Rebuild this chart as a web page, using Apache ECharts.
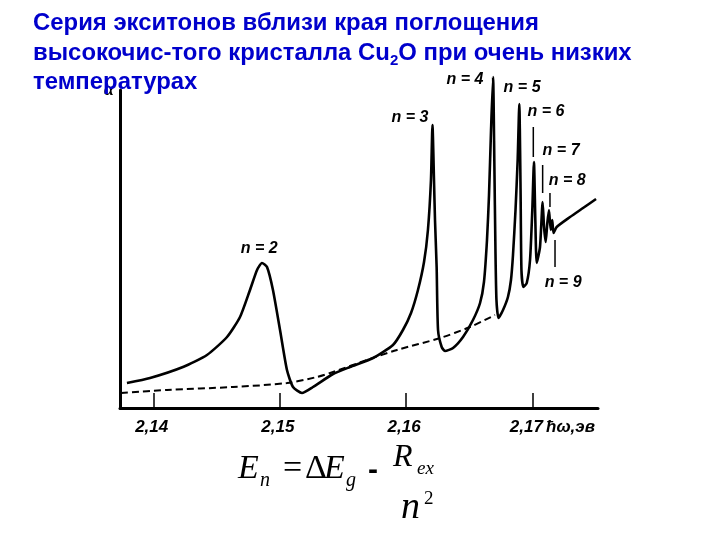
<!DOCTYPE html>
<html>
<head>
<meta charset="utf-8">
<script src="https://cdn.jsdelivr.net/npm/echarts@6/dist/echarts.min.js"></script>
<style>html,body{margin:0;padding:0;background:#fff}#c{width:720px;height:540px}</style>
</head>
<body>
<div id="c"></div>
<script>
// Energy axis ticks (eV)
const tickValues = [2.14, 2.15, 2.16, 2.17];
// Absorption curve (x: photon energy, y: absorption, arbitrary units)
const absX = [2.13788,2.13971,2.14232,2.14422,2.14581,2.14684,2.14763,2.14819,2.14858,2.14898,2.14945,2.15001,2.15056,2.15104,2.15175,2.15262,2.15421,2.15555,2.15738,2.15896,2.15975,2.16039,2.16094,2.16142,2.16173,2.16197,2.16209,2.16221,2.16229,2.16242,2.16253,2.16282,2.16308,2.16372,2.16451,2.16530,2.16586,2.16617,2.16641,2.16657,2.16673,2.16689,2.16699,2.16708,2.16716,2.16732,2.16768,2.16807,2.16831,2.16847,2.16867,2.16884,2.16897,2.16907,2.16914,2.16929,2.16956,2.16982,2.17000,2.17013,2.17024,2.17035,2.17061,2.17082,2.17093,2.17106,2.17119,2.17132,2.17146,2.17158,2.17168,2.17193,2.17299,2.17402,2.17505];
const absY = [25,30,41,53,71,91,118,138,145,141,118,78,38,21,15,21,34,41,50,63,78,95,118,146,178,228,283,228,188,141,78,61,57,60,71,88,105,126,168,213,278,331,248,158,108,90,98,111,128,153,198,248,304,218,138,121,125,148,198,246,188,145,161,206,181,166,185,198,178,188,175,181,191,200,209];
// Background (dashed) curve
const bgX = [2.13741,2.14105,2.14628,2.15056,2.15294,2.15421,2.15690,2.15928,2.16269,2.16506,2.16704];
const bgY = [15,18,21,25,31,36,48,58,70,81,93];
// Exciton line labels
const peakNames = ['n = 2','n = 3','n = 4','n = 5','n = 6','n = 7','n = 8','n = 9'];
const peakLabelX = [2.14836,2.16031,2.16467,2.16919,2.17109,2.17228,2.17276,2.17244];
const peakLabelY = [159,290,328,320,296,257,227,125];
// Pointer marks under some labels
const pointerX = [2.17008,2.17082,2.17140,2.17180];
const pointerY1 = [281,243,215,168];
const pointerY2 = [251,215,201,141];

const chart = echarts.init(document.getElementById('c'), null, {renderer:'canvas'});
const blue = '#0000cc';
const hf = 'Liberation Sans';
const series = [
  {type:'line', data: absX.map((x,i)=>[x,absY[i]]), showSymbol:false, symbol:'none', clip:false,
   smooth:0.2, lineStyle:{color:'#000', width:2.6}, z:3},
  {type:'line', data: bgX.map((x,i)=>[x,bgY[i]]), showSymbol:false, symbol:'none',
   smooth:0.3, lineStyle:{color:'#000', width:2, type:[7,4]}, z:2},
  {type:'scatter', clip:false, data: peakNames.map((n,i)=>({name:n, value:[peakLabelX[i], peakLabelY[i]]})),
   symbolSize:1, itemStyle:{opacity:0},
   label:{show:true, position:'inside', formatter:p=>p.name, fontSize:16, fontFamily:hf,
     fontStyle:'italic', fontWeight:'bold', color:'#000', opacity:1}, z:4}
];
pointerX.forEach((x,i)=>{
  series.push({type:'line', data:[[x,pointerY1[i]],[x,pointerY2[i]]], showSymbol:false, symbol:'none',
    lineStyle:{color:'#000', width:1.5}, z:3});
});
const lblStyle = {fontSize:17, fontFamily:hf, fontStyle:'italic', fontWeight:'bold', color:'#000'};

chart.setOption({
  animation:false,
  backgroundColor:'#fff',
  title:{
    text:'Серия экситонов вблизи края поглощения\nвысокочис-того кристалла Cu{sub|2}O при очень низких\nтемпературах',
    left:33, top:9, padding:0,
    textStyle:{fontFamily:'Liberation Sans', fontSize:23.9, fontWeight:'bold', color:blue, lineHeight:29.5,
      rich:{sub:{fontFamily:'Liberation Sans', fontSize:15, fontWeight:'bold', color:blue, lineHeight:15, verticalAlign:'bottom'}}}
  },
  grid:{left:120, right:122, top:90, bottom:132},
  xAxis:{type:'value', min:2.13733, max:2.175206,
    axisLine:{show:true, onZero:false, lineStyle:{color:'#000', width:3}},
    axisTick:{show:true, inside:true, length:15, customValues:tickValues, lineStyle:{color:'#000', width:1.5}},
    axisLabel:{show:true, customValues:tickValues, margin:11, ...lblStyle,
      formatter:v=>{const s=v.toFixed(2).replace('.', ','); return '{' + (Math.abs(v-2.17)<1e-6?'r':'c') + '|' + s + '}';},
      rich:{c:{...lblStyle, padding:[0,4,0,0]}, r:{...lblStyle, padding:[0,12,0,0]}}},
    splitLine:{show:false}},
  yAxis:{type:'value', min:0, max:318,
    name:'α', nameLocation:'end', nameGap:0,
    nameTextStyle:{fontFamily:'Liberation Serif', fontStyle:'italic', fontWeight:'bold', fontSize:18, color:'#000', align:'right', verticalAlign:'middle', padding:[0,6,0,0]},
    axisLine:{show:true, lineStyle:{color:'#000', width:3}},
    axisTick:{show:false}, axisLabel:{show:false}, splitLine:{show:false}},
  graphic:[
    {type:'text', left:546, top:419, style:{text:'ħω,эв', font:'italic bold 17px "Liberation Sans"', fill:'#000'}},
    {type:'text', x:238, y:486, style:{text:'E', font:'italic 34px "Liberation Serif"', fill:'#000', verticalAlign:'bottom'}},
    {type:'text', x:260, y:491, style:{text:'n', font:'italic 20px "Liberation Serif"', fill:'#000', verticalAlign:'bottom'}},
    {type:'text', x:283, y:486, style:{text:'=', font:'34px "Liberation Serif"', fill:'#000', verticalAlign:'bottom'}},
    {type:'text', x:305, y:486, style:{text:'Δ', font:'34px "Liberation Serif"', fill:'#000', verticalAlign:'bottom'}},
    {type:'text', x:324, y:486, style:{text:'E', font:'italic 34px "Liberation Serif"', fill:'#000', verticalAlign:'bottom'}},
    {type:'text', x:346, y:491, style:{text:'g', font:'italic 20px "Liberation Serif"', fill:'#000', verticalAlign:'bottom'}},
    {type:'text', x:368, y:486, style:{text:'-', font:'bold 30px "Liberation Sans"', fill:'#000', verticalAlign:'bottom'}},
    {type:'text', x:393, y:474, style:{text:'R', font:'italic 32px "Liberation Serif"', fill:'#000', verticalAlign:'bottom'}},
    {type:'text', x:417, y:478, style:{text:'ex', font:'italic 19px "Liberation Serif"', fill:'#000', verticalAlign:'bottom'}},
    {type:'text', x:401, y:527, style:{text:'n', font:'italic 38px "Liberation Serif"', fill:'#000', verticalAlign:'bottom'}},
    {type:'text', x:424, y:509, style:{text:'2', font:'19px "Liberation Serif"', fill:'#000', verticalAlign:'bottom'}}
  ],
  series: series
});
</script>
</body>
</html>
